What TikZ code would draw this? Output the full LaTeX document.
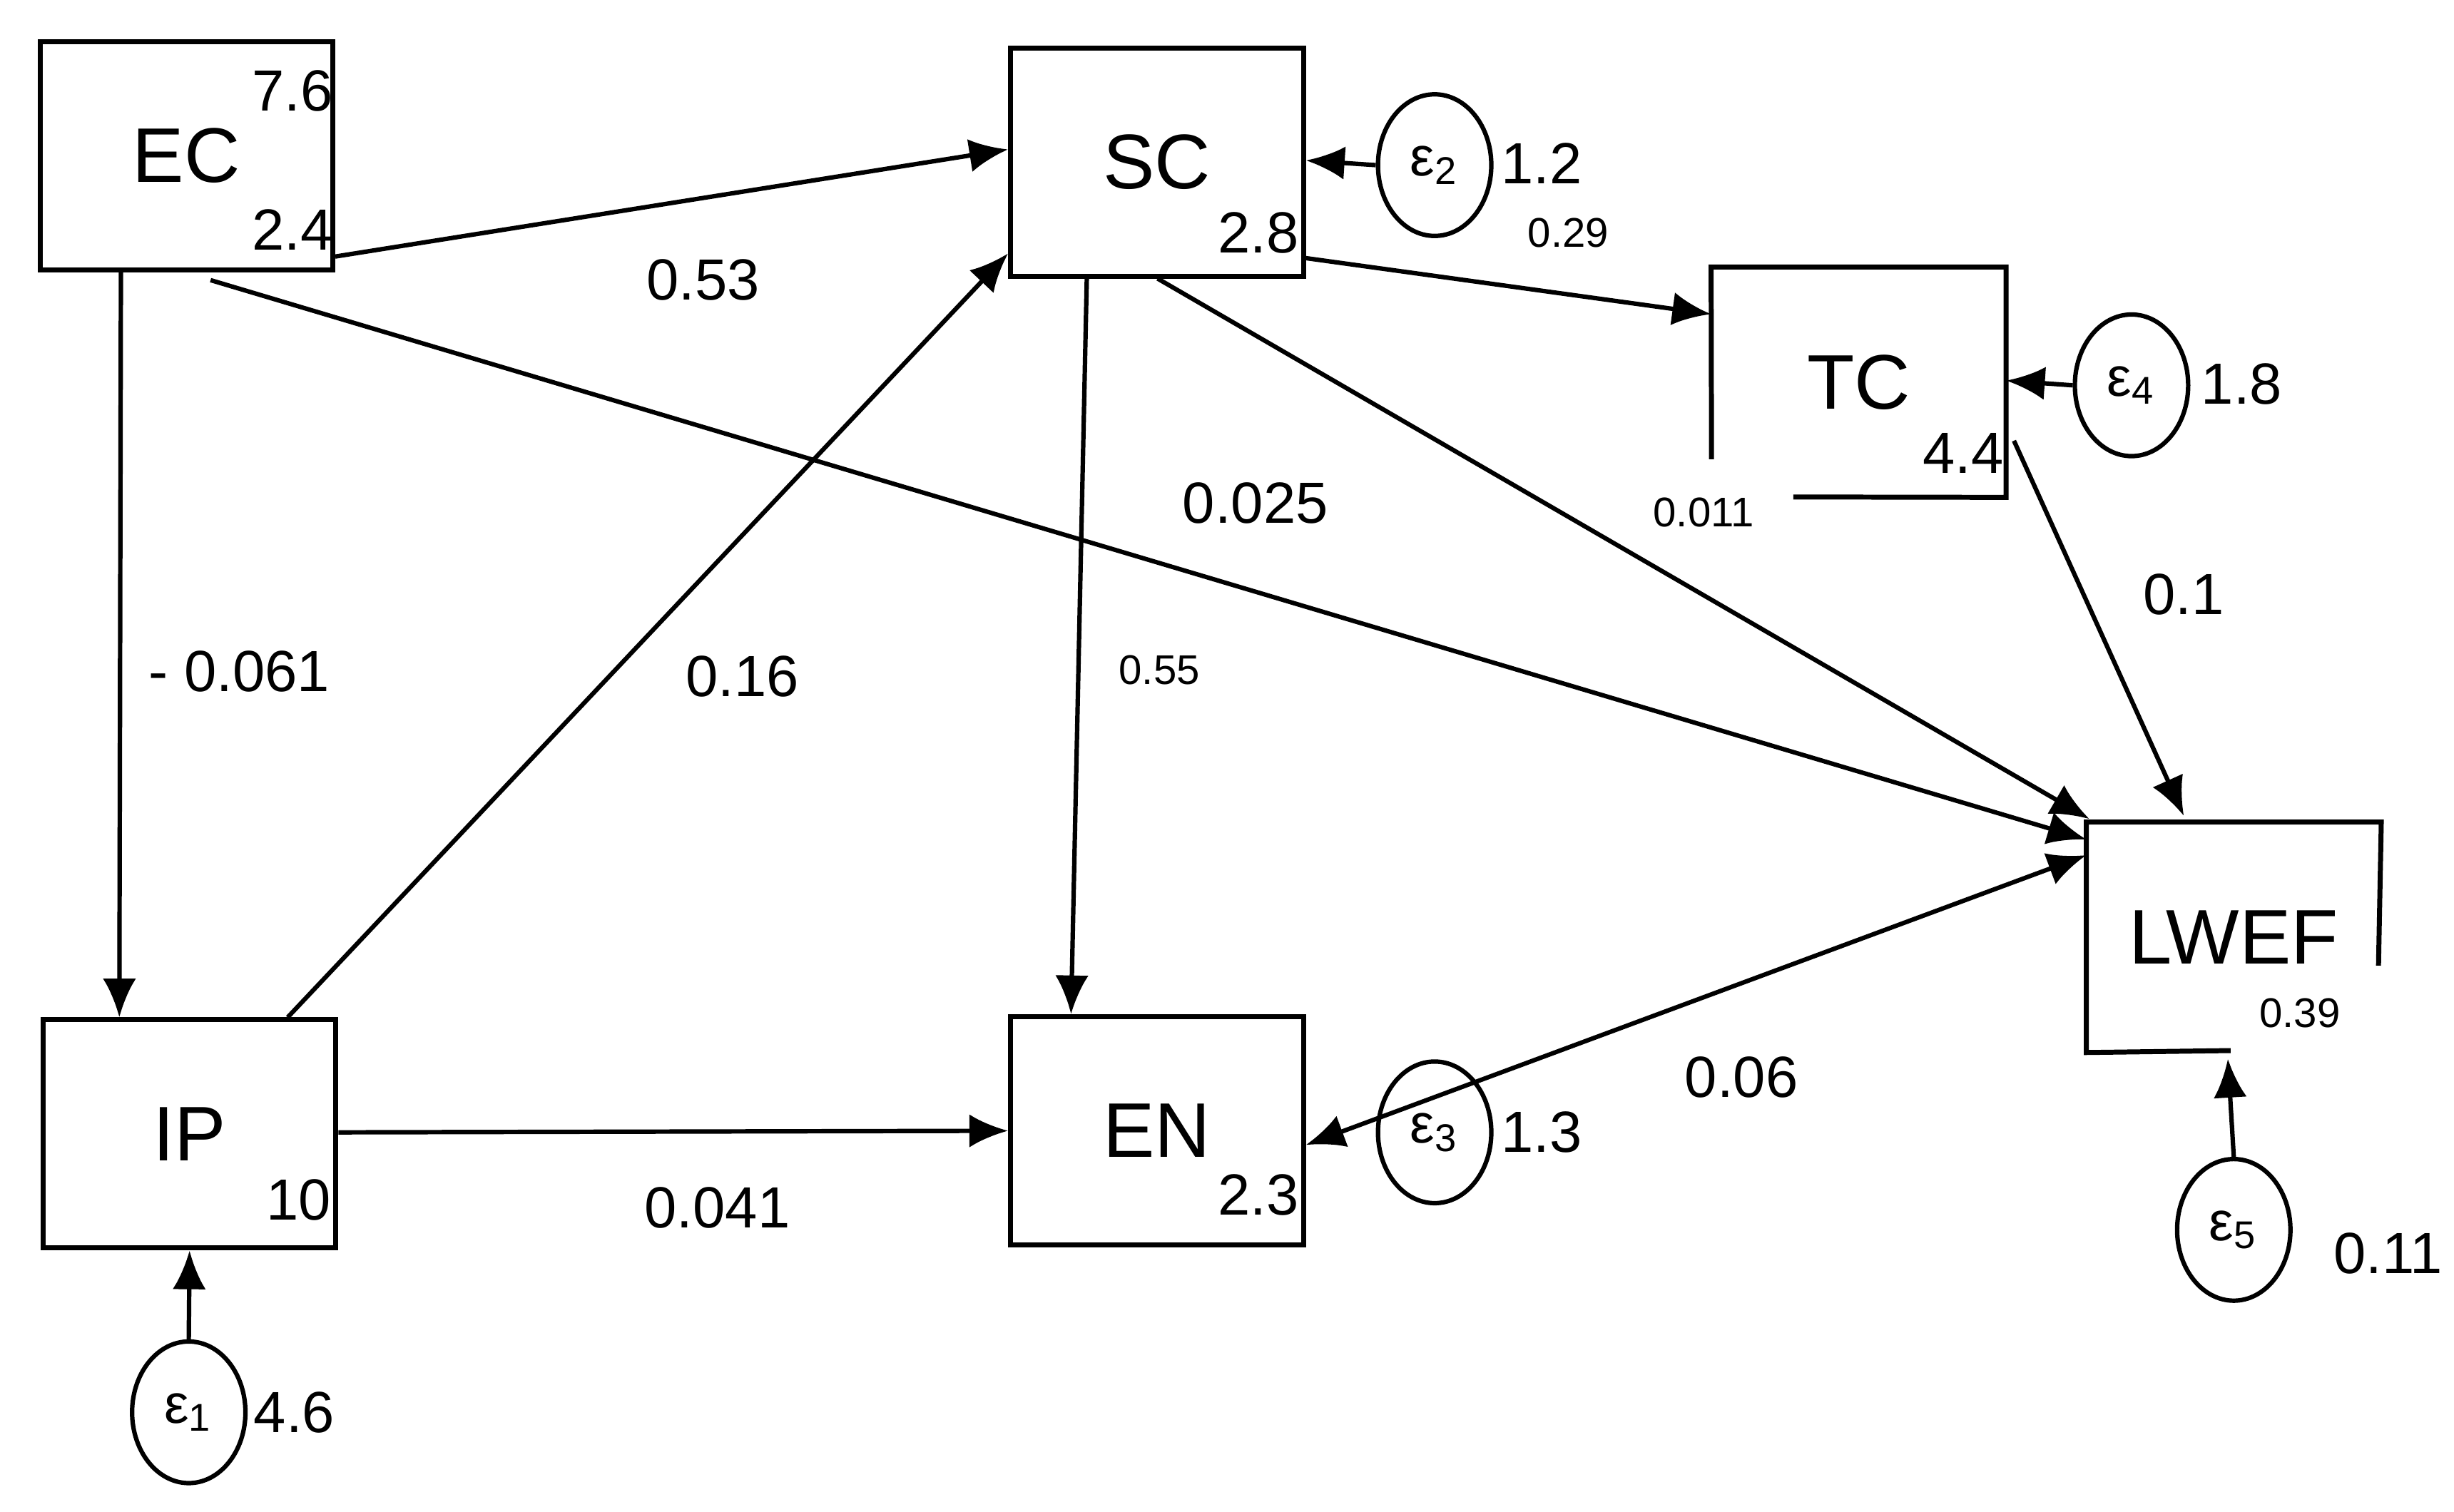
\documentclass[tikz,border=0pt]{standalone}
\usepackage{fontspec}
\setmainfont{Liberation Sans}
\usetikzlibrary{shapes.geometric,arrows.meta,calc}
\begin{document}
\begin{tikzpicture}[x=0.01cm,y=-0.01cm,
  box/.style={draw,line width=0.9pt,minimum width=1.86cm,minimum height=1.45cm,inner sep=0pt,font=\fontsize{14}{14}\selectfont},
  obox/.style={minimum width=1.86cm,minimum height=1.45cm,inner sep=0pt,font=\fontsize{14}{14}\selectfont},
  err/.style={draw,ellipse,line width=0.8pt,minimum width=0.72cm,minimum height=0.9cm,inner sep=0pt,font=\fontsize{10}{10}\selectfont},
  arr/.style={line width=0.8pt,-{Latex[length=7pt,width=6pt]}},
  num/.style={font=\fontsize{10.5}{10.5}\selectfont,inner sep=0pt},
  sm/.style={font=\fontsize{7.5}{7.5}\selectfont,inner sep=0pt}]
\useasboundingbox (0,0) rectangle (1560,961);
\node[box] (ec) at (118.5,99) {EC};
\node[box] (sc) at (735.5,103) {SC};
\node[obox] (tc) at (1181.5,243) {TC};
\node[box] (ip) at (120.5,721) {IP};
\node[box] (en) at (735.5,719) {EN};
\node[obox] (lw) at (1420,596) {LWEF};
\draw[line width=0.9pt] (1088,292) -- (tc.north west) -- (tc.north east) -- (tc.south east) -- (1140,316);
\draw[line width=0.9pt] (1418,668) -- (lw.south west) -- (lw.north west) -- (lw.north east) -- (1512,614);
\node[err] (e2) at (912,105) {ε\textsubscript{2}};
\node[err] (e4) at (1355,245) {ε\textsubscript{4}};
\node[err] (e3) at (912,720) {ε\textsubscript{3}};
\node[err] (e1) at (120,898) {ε\textsubscript{1}};
\node[err] (e5) at (1420,782) {ε\textsubscript{5}};
\draw[arr] ($(ec.south east)+(0,-10)$) -- ($(sc.west)+(0,-8)$);
\draw[arr] ($(ec.south west)+(53,0)$) -- ($(ip.north west)+(50,0)$);
\draw[arr] ($(ec.south west)+(110,5)$) -- ($(lw.north west)+(0,11)$);
\draw[arr] ($(ip.north west)+(157,0)$) -- ($(sc.south west)+(0,-16)$);
\draw[arr] ($(ip.east)+(0,-1)$) -- (en.west);
\draw[arr] ($(sc.south west)+(50,0)$) -- ($(en.north west)+(40,0)$);
\draw[arr] ($(sc.south west)+(95,0)$) -- ($(lw.north west)+(2,-2)$);
\draw[arr] ($(sc.south east)+(0,-13)$) -- ($(tc.north west)+(0,30)$);
\draw[arr] ($(tc.south east)+(5,-36)$) -- ($(lw.north west)+(62,-4)$);
\draw[arr] (e2.west) -- ($(sc.east)+(0,-1)$);
\draw[arr] (e4.west) -- ($(tc.east)+(0,-1)$);
\draw[arr] (e1.north) -- (ip.south);
\draw[arr] (e5.north) -- ($(lw.south west)+(90,4)$);
\draw[line width=0.8pt,{Latex[length=7pt,width=6pt]}-{Latex[length=7pt,width=6pt]}] ($(en.east)+(0,9)$) -- ($(lw.north west)+(0,21)$);
% inner numbers
\node[num] at (186,58) {7.6};
\node[num] at (186,146) {2.4};
\node[num] at (800,148) {2.8};
\node[num] at (1248,288) {4.4};
\node[num] at (190,763) {10};
\node[num] at (800,760) {2.3};
\node[num] at (980,104) {1.2};
\node[num] at (1425,244) {1.8};
\node[num] at (980,720) {1.3};
\node[num] at (187,898) {4.6};
% path labels
\node[num] at (447,178) {0.53};
\node[num] at (798,320) {0.025};
\node[num] at (152,427) {- 0.061};
\node[num] at (472,430) {0.16};
\node[sm] at (737,426) {0.55};
\node[sm] at (1083,326) {0.011};
\node[num] at (1388,378) {0.1};
\node[sm] at (997,148) {0.29};
\node[num] at (1107,685) {0.06};
\node[num] at (456,768) {0.041};
\node[num] at (1518,797) {0.11};
\node[sm] at (1462,644) {0.39};
\end{tikzpicture}
\end{document}
